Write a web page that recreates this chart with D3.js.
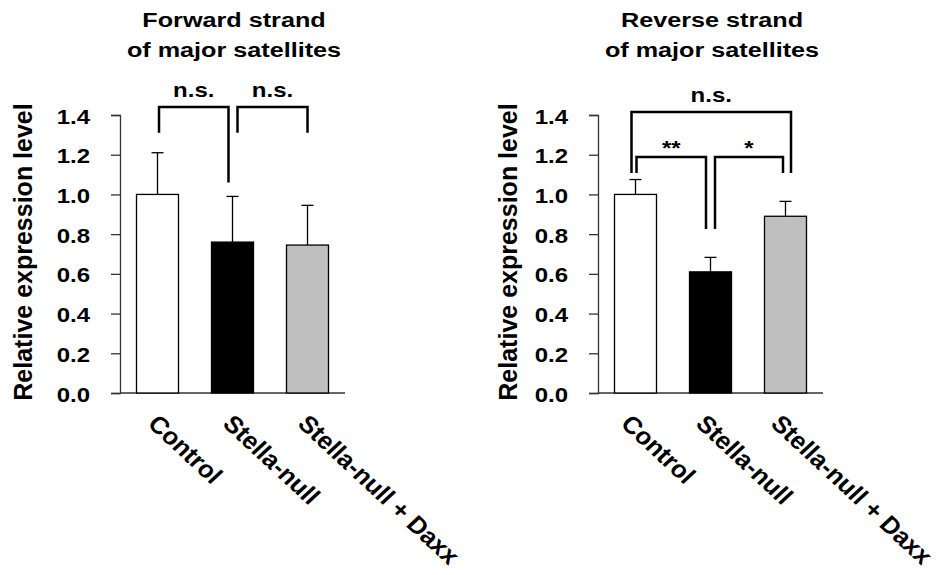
<!DOCTYPE html>
<html>
<head>
<meta charset="utf-8">
<script src="https://cdn.jsdelivr.net/npm/d3@7"></script>
<style>
  html, body { margin: 0; padding: 0; background: #fff; }
  text { font-family: "Liberation Sans", Arial, sans-serif; font-weight: bold; fill: #000; }
</style>
</head>
<body>
<div id="chart"></div>
<script>
// groups and bar colours
const groups = ["Control", "Stella-null", "Stella-null + Daxx"];
const fills = ["#ffffff", "#000000", "#bfbfbf"];
const yTicks = [0, 0.2, 0.4, 0.6, 0.8, 1.0, 1.2, 1.4];

// forward strand: mean and mean+SD
const fwdMean = [1.0, 0.76, 0.745];
const fwdTop = [1.21, 0.99, 0.945];

// reverse strand
const revMean = [1.0, 0.61, 0.89];
const revTop = [1.075, 0.683, 0.965];

// significance brackets: [from, to, top, leftLeg, rightLeg, label]
const fwdBrackets = [
  ["Control", "Stella-null", 1.44, 1.31, 1.06, "n.s."],
  ["Stella-null", "Stella-null + Daxx", 1.44, 1.31, 1.31, "n.s."]
];
const revBrackets = [
  ["Control", "Stella-null + Daxx", 1.415, 1.108, 1.108, "n.s."],
  ["Control", "Stella-null", 1.188, 1.108, 0.826, "**"],
  ["Stella-null", "Stella-null + Daxx", 1.188, 0.826, 1.108, "*"]
];

const W = 936, H = 575;
const SX = 1.2; // the source figure is stretched horizontally

const svg = d3.select("#chart").append("svg")
  .attr("width", W)
  .attr("height", H);

function drawPanel({ x0, title, means, tops, brackets, bracketDx, labelDx, yLabelX }) {
  const g = svg.append("g");

  const x = d3.scaleBand()
    .domain(groups)
    .range([x0, x0 + 225])
    .paddingInner(0.44)
    .paddingOuter(0.22);

  const y = d3.scaleLinear()
    .domain([0, 1.4])
    .range([393, 115]);

  const cx = d => x(d) + x.bandwidth() / 2;

  // title, two lines
  title.forEach((t, i) => {
    g.append("text")
      .attr("transform", `translate(${x0 + 114},${27 + i * 30}) scale(${SX},1)`)
      .attr("text-anchor", "middle")
      .style("font-size", "21px")
      .text(t);
  });

  // y axis
  const yAxis = g.append("g")
    .attr("transform", `translate(${x0},0)`)
    .call(d3.axisLeft(y).tickValues(yTicks).tickSize(9).tickFormat(d3.format(".1f")));
  yAxis.select(".domain").attr("stroke", "#333").attr("stroke-width", 1.3);
  yAxis.selectAll(".tick line").attr("stroke", "#333").attr("stroke-width", 1.3);
  yAxis.selectAll(".tick text")
    .attr("x", null).attr("dy", null)
    .attr("text-anchor", "end")
    .attr("transform", `translate(-30,8) scale(${SX},1)`)
    .style("font-size", "20px")
    .style("font-family", "'Liberation Sans', Arial, sans-serif")
    .style("font-weight", "bold")
    .attr("fill", "#000");

  // x axis baseline
  g.append("line")
    .attr("x1", x0).attr("x2", x0 + 225)
    .attr("y1", y(0)).attr("y2", y(0))
    .attr("stroke", "#333")
    .attr("stroke-width", 1.3);

  // y label
  g.append("text")
    .attr("transform", `translate(${yLabelX},252) rotate(-90)`)
    .attr("text-anchor", "middle")
    .style("font-size", "25px")
    .text("Relative expression level");

  // error bars (upper only)
  groups.forEach((d, i) => {
    g.append("line")
      .attr("x1", cx(d)).attr("x2", cx(d))
      .attr("y1", y(means[i])).attr("y2", y(tops[i]))
      .attr("stroke", "#000").attr("stroke-width", 1.3);
    g.append("line")
      .attr("x1", cx(d) - 6).attr("x2", cx(d) + 6)
      .attr("y1", y(tops[i])).attr("y2", y(tops[i]))
      .attr("stroke", "#000").attr("stroke-width", 1.3);
  });

  // bars
  g.selectAll(".bar")
    .data(groups)
    .enter()
    .append("rect")
    .attr("class", "bar")
    .attr("x", d => x(d))
    .attr("y", (d, i) => y(means[i]))
    .attr("width", x.bandwidth())
    .attr("height", (d, i) => y(0) - y(means[i]))
    .attr("fill", (d, i) => fills[i])
    .attr("stroke", "#000")
    .attr("stroke-width", 1.3);

  // category labels, rotated
  groups.forEach(d => {
    g.append("text")
      .attr("transform", `translate(${cx(d) + labelDx},425) scale(1.08,1) rotate(45)`)
      .style("font-size", "24px")
      .text(d);
  });

  // brackets
  brackets.forEach((b, i) => {
    const [from, to, top, l, r, label] = b;
    const xa = cx(from) + bracketDx[i][0];
    const xb = cx(to) + bracketDx[i][1];
    g.append("path")
      .attr("d", d3.line()([[xa, y(l)], [xa, y(top)], [xb, y(top)], [xb, y(r)]]))
      .attr("fill", "none")
      .attr("stroke", "#000")
      .attr("stroke-width", 2.5);
    const stars = label.startsWith("*");
    g.append("text")
      .attr("transform", `translate(${(xa + xb) / 2},${y(top) - (stars ? 2 : 10)}) scale(${SX},1)`)
      .attr("text-anchor", "middle")
      .style("font-size", "20px")
      .text(label);
  });
}

drawPanel({
  x0: 120,
  title: ["Forward strand", "of major satellites"],
  means: fwdMean,
  tops: fwdTop,
  brackets: fwdBrackets,
  bracketDx: [[1.5, -4], [5, 0]],
  labelDx: -11,
  yLabelX: 32
});

drawPanel({
  x0: 598,
  title: ["Reverse strand", "of major satellites"],
  means: revMean,
  tops: revTop,
  brackets: revBrackets,
  bracketDx: [[-4, 5.5], [1, -4.5], [4.5, -2.5]],
  labelDx: -16,
  yLabelX: 517
});
</script>
</body>
</html>
